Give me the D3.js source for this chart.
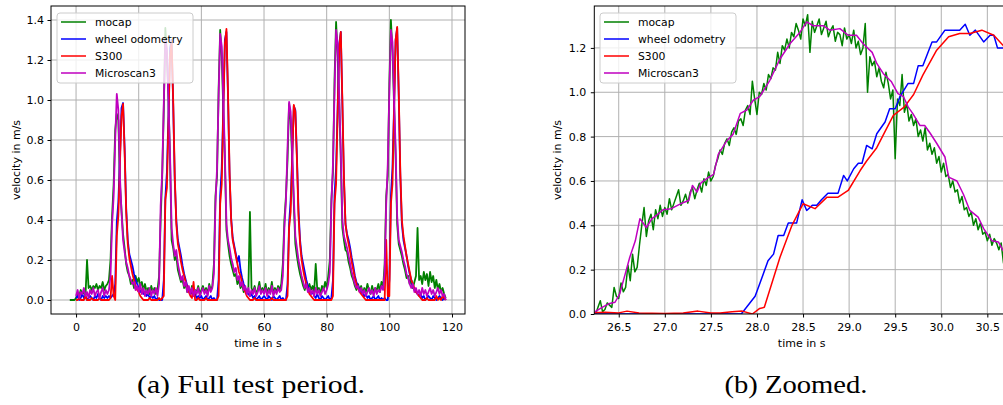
<!DOCTYPE html>
<html>
<head>
<meta charset="utf-8">
<script src="https://cdn.jsdelivr.net/npm/d3@7"></script>
<style>
  body { margin: 0; background: #fff; }
  svg text { font-family: "DejaVu Sans", sans-serif; }
  svg text.caption { font-family: "Liberation Serif", serif; }
</style>
</head>
<body>
<svg id="fig" width="1003" height="405"></svg>
<script>
// ---- full test run: velocity samples every 0.5 s ----
const fullStep = 0.5;
const mocapFullStart = -2;
const sensorFullStart = 0;

const mocapFull = [
  0.00,0.00,0.00,0.00,
  0.01,0.03,0.02,0.05,0.03,0.04,0.02,0.20,0.06,0.07,0.05,0.07,0.06,0.08,0.05,0.07,0.06,0.09,0.05,0.07,
  0.08,0.10,0.20,0.42,0.58,0.85,0.93,0.90,0.58,0.45,0.33,0.26,0.18,0.14,0.12,0.08,0.10,0.06,0.12,0.09,
  0.11,0.07,0.09,0.05,0.08,0.04,0.06,0.03,0.07,0.04,0.06,0.03,0.05,0.12,0.40,0.62,0.95,1.36,1.22,1.00,
  0.70,0.30,0.26,0.20,0.22,0.15,0.12,0.09,0.10,0.06,0.08,0.04,0.06,0.03,0.07,0.02,0.05,0.04,0.07,0.03,
  0.05,0.07,0.04,0.06,0.03,0.08,0.05,0.07,0.18,0.52,0.62,1.05,1.35,1.22,0.95,0.70,0.35,0.28,0.22,0.18,
  0.15,0.12,0.13,0.08,0.10,0.06,0.08,0.04,0.06,0.03,0.05,0.44,0.06,0.04,0.07,0.03,0.05,0.09,0.04,0.06,
  0.04,0.08,0.03,0.06,0.04,0.09,0.03,0.06,0.04,0.07,0.05,0.08,0.18,0.40,0.52,0.70,0.98,0.90,0.70,0.48,
  0.28,0.22,0.17,0.13,0.10,0.07,0.05,0.09,0.06,0.08,0.05,0.07,0.04,0.18,0.05,0.06,0.03,0.07,0.05,0.09,
  0.06,0.12,0.20,0.50,0.64,1.10,1.39,1.22,0.98,0.70,0.36,0.30,0.25,0.24,0.19,0.16,0.12,0.10,0.07,0.05,
  0.08,0.05,0.07,0.03,0.06,0.04,0.08,0.05,0.03,0.07,0.04,0.06,0.05,0.08,0.04,0.09,0.06,0.18,0.52,0.62,
  1.08,1.40,1.24,0.98,0.72,0.38,0.28,0.25,0.22,0.18,0.15,0.11,0.12,0.08,0.10,0.06,0.09,0.12,0.36,0.10,
  0.12,0.08,0.14,0.10,0.13,0.07,0.14,0.09,0.12,0.06,0.10,0.05,0.08,0.04,0.06,0.03,0.01
];

const wheelFull = [
  0.01,0.02,0.00,0.01,0.03,0.01,0.02,0.00,0.01,0.02,0.01,0.00,0.02,0.01,0.03,0.01,0.00,0.02,0.01,0.02,
  0.01,0.02,0.01,0.02,0.03,0.08,0.39,0.49,0.71,0.96,0.985,0.76,0.46,0.30,0.23,0.20,0.17,0.13,0.10,0.08,
  0.06,0.04,0.05,0.03,0.04,0.02,0.03,0.01,0.02,0.01,0.02,0.00,0.01,0.00,0.00,0.00,0.10,0.51,0.64,0.93,
  1.26,1.30,0.98,0.60,0.40,0.30,0.26,0.22,0.17,0.13,0.10,0.07,0.05,0.03,0.04,0.02,0.03,0.01,0.02,0.01,
  0.02,0.00,0.01,0.02,0.00,0.01,0.02,0.00,0.01,0.00,0.00,0.10,0.52,0.66,0.96,1.30,1.34,1.02,0.62,0.41,
  0.31,0.27,0.23,0.19,0.22,0.15,0.11,0.08,0.06,0.04,0.03,0.02,0.03,0.01,0.02,0.00,0.01,0.02,0.00,0.01,
  0.02,0.01,0.00,0.02,0.01,0.00,0.02,0.01,0.00,0.01,0.02,0.00,0.01,0.00,0.00,0.08,0.38,0.50,0.72,0.97,
  0.95,0.72,0.45,0.30,0.22,0.18,0.14,0.10,0.07,0.05,0.03,0.04,0.02,0.01,0.03,0.01,0.00,0.02,0.01,0.00,
  0.01,0.02,0.00,0.01,0.10,0.52,0.66,0.96,1.28,1.34,0.98,0.60,0.38,0.33,0.30,0.26,0.21,0.17,0.12,0.09,
  0.07,0.05,0.04,0.03,0.02,0.03,0.01,0.02,0.00,0.01,0.02,0.00,0.01,0.02,0.00,0.01,0.00,0.01,0.00,0.00,
  0.10,0.52,0.66,0.96,1.30,1.36,1.02,0.62,0.38,0.30,0.26,0.22,0.17,0.13,0.10,0.07,0.05,0.04,0.03,0.02,
  0.03,0.01,0.02,0.00,0.01,0.02,0.01,0.00,0.02,0.01,0.00,0.01,0.02,0.01,0.00,0.01,0.00
];

const s300Full = [
  0.00,0.00,0.01,0.00,0.00,0.00,0.02,0.00,0.00,0.00,0.01,0.00,0.00,0.00,0.00,0.01,0.00,0.00,0.00,0.00,
  0.00,0.00,0.01,0.12,0.02,0.00,0.32,0.42,0.68,0.92,0.98,0.74,0.44,0.28,0.21,0.17,0.13,0.10,0.07,0.05,
  0.04,0.02,0.01,0.00,0.00,0.00,0.00,0.01,0.00,0.00,0.00,0.00,0.00,0.01,0.00,0.01,0.02,0.50,0.56,0.90,
  1.22,1.29,1.00,0.62,0.38,0.28,0.24,0.19,0.15,0.12,0.09,0.06,0.04,0.02,0.01,0.09,0.00,0.00,0.01,0.00,
  0.00,0.00,0.00,0.01,0.00,0.00,0.00,0.00,0.00,0.00,0.00,0.02,0.48,0.58,0.94,1.28,1.355,1.04,0.64,0.40,
  0.30,0.26,0.22,0.18,0.14,0.12,0.09,0.06,0.04,0.02,0.01,0.00,0.00,0.00,0.01,0.00,0.00,0.00,0.00,0.00,
  0.00,0.00,0.00,0.00,0.00,0.01,0.00,0.00,0.00,0.00,0.00,0.00,0.00,0.00,0.00,0.02,0.36,0.44,0.70,0.975,
  0.94,0.70,0.42,0.28,0.20,0.15,0.11,0.08,0.05,0.03,0.02,0.01,0.00,0.00,0.00,0.00,0.00,0.00,0.00,0.00,
  0.00,0.00,0.00,0.00,0.02,0.48,0.58,0.94,1.26,1.34,1.00,0.62,0.38,0.32,0.28,0.24,0.19,0.15,0.11,0.08,
  0.06,0.04,0.03,0.02,0.01,0.00,0.00,0.00,0.00,0.00,0.00,0.00,0.00,0.00,0.00,0.00,0.00,0.00,0.30,0.02,
  0.02,0.48,0.58,0.94,1.30,1.365,1.04,0.64,0.40,0.32,0.27,0.22,0.18,0.14,0.10,0.08,0.06,0.04,0.03,0.02,
  0.01,0.00,0.00,0.00,0.01,0.00,0.00,0.00,0.00,0.00,0.02,0.00,0.01,0.00,0.02,0.01,0.00
];

const microscan3Full = [
  0.02,0.05,0.01,0.04,0.03,0.06,0.02,0.04,0.01,0.05,0.03,0.06,0.02,0.04,0.05,0.01,0.04,0.06,0.02,0.05,
  0.03,0.05,0.12,0.38,0.52,0.80,1.03,0.95,0.62,0.44,0.30,0.24,0.19,0.16,0.12,0.10,0.08,0.09,0.05,0.07,
  0.04,0.08,0.03,0.06,0.02,0.05,0.03,0.06,0.02,0.05,0.03,0.06,0.02,0.08,0.47,0.64,0.98,1.30,1.25,0.99,
  0.73,0.36,0.28,0.22,0.25,0.18,0.14,0.10,0.12,0.07,0.09,0.04,0.07,0.03,0.06,0.02,0.05,0.03,0.06,0.02,
  0.04,0.06,0.03,0.05,0.02,0.07,0.04,0.06,0.13,0.48,0.66,1.02,1.33,1.27,1.00,0.74,0.38,0.30,0.26,0.21,
  0.18,0.14,0.16,0.10,0.12,0.07,0.09,0.05,0.07,0.03,0.06,0.02,0.05,0.03,0.06,0.02,0.04,0.07,0.03,0.05,
  0.03,0.06,0.02,0.05,0.03,0.07,0.02,0.05,0.03,0.06,0.04,0.05,0.12,0.36,0.50,0.76,0.99,0.94,0.74,0.52,
  0.32,0.26,0.20,0.16,0.12,0.09,0.06,0.08,0.04,0.06,0.03,0.05,0.02,0.06,0.03,0.05,0.02,0.04,0.06,0.03,
  0.05,0.08,0.14,0.48,0.68,1.04,1.35,1.28,1.02,0.75,0.40,0.32,0.29,0.26,0.22,0.18,0.14,0.11,0.08,0.06,
  0.07,0.04,0.06,0.03,0.05,0.02,0.04,0.06,0.03,0.05,0.02,0.06,0.03,0.05,0.04,0.07,0.05,0.14,0.48,0.68,
  1.04,1.35,1.29,1.02,0.76,0.42,0.30,0.27,0.24,0.20,0.17,0.13,0.11,0.08,0.06,0.08,0.04,0.06,0.03,0.05,
  0.02,0.06,0.03,0.05,0.02,0.04,0.06,0.03,0.05,0.02,0.04,0.06,0.03,0.05,0.02,0.03,0.00
];

// ---- zoomed window around the second run ----
const mocapZoomStart = 26.25;
const mocapZoomStep = 0.025;
const mocapZoom = [
  0.00,0.03,0.06,0.01,0.02,0.05,0.04,0.03,0.12,0.08,
  0.07,0.14,0.10,0.12,0.22,0.15,0.27,0.19,0.21,0.31,
  0.40,0.48,0.35,0.42,0.45,0.38,0.47,0.43,0.49,0.44,
  0.48,0.45,0.52,0.47,0.50,0.53,0.56,0.49,0.51,0.54,
  0.50,0.55,0.57,0.52,0.56,0.59,0.55,0.61,0.58,0.64,
  0.60,0.62,0.67,0.70,0.74,0.72,0.77,0.79,0.76,0.82,
  0.84,0.81,0.87,0.88,0.85,0.92,0.94,0.90,1.05,0.97,
  0.90,1.00,0.99,1.04,1.01,1.08,1.06,1.11,1.10,1.18,
  1.13,1.21,1.19,1.24,1.20,1.27,1.25,1.31,1.28,1.24,
  1.33,1.30,1.35,1.18,1.32,1.27,1.30,1.33,1.26,1.29,
  1.32,1.25,1.28,1.30,1.23,1.27,1.26,1.21,1.29,1.24,
  1.26,1.22,1.28,1.20,1.23,1.17,1.20,1.31,1.00,1.16,
  1.12,1.14,1.07,1.11,1.05,1.02,1.09,1.04,0.97,1.01,
  0.70,0.97,0.94,1.08,0.91,0.95,0.87,0.90,0.85,0.88,
  0.80,0.83,0.78,0.84,0.74,0.77,0.72,0.75,0.68,0.71,
  0.64,0.68,0.62,0.63,0.57,0.60,0.55,0.56,0.50,0.53,
  0.47,0.48,0.44,0.46,0.40,0.43,0.38,0.41,0.36,0.37,
  0.33,0.36,0.31,0.34,0.32,0.29,0.32,0.23,0.28,0.26,
  0.27
];

const wheelZoom = [
  [26.20,0.0],[27.83,0.0],[27.98,0.08],[28.03,0.136],[28.12,0.24],[28.18,0.27],[28.23,0.354],
  [28.29,0.354],[28.34,0.41],[28.43,0.41],[28.49,0.515],[28.54,0.467],[28.60,0.49],[28.65,0.49],
  [28.70,0.515],[28.77,0.545],[28.88,0.545],[28.94,0.625],[28.98,0.60],[29.05,0.655],[29.10,0.68],
  [29.14,0.68],[29.19,0.76],[29.25,0.745],[29.30,0.813],[29.39,0.866],[29.44,0.926],[29.50,0.926],
  [29.55,0.979],[29.64,1.04],[29.70,1.04],[29.75,1.12],[29.80,1.12],[29.90,1.227],[29.95,1.227],
  [30.04,1.28],[30.20,1.28],[30.26,1.307],[30.31,1.257],[30.37,1.28],[30.46,1.227],[30.53,1.257],
  [30.57,1.257],[30.61,1.20],[30.75,1.20]
];

const s300Zoom = [
  [26.20,0.005],[26.35,0.008],[26.50,0.005],[26.59,0.013],[26.72,0.004],[27.00,0.002],[27.20,0.004],
  [27.36,0.013],[27.50,0.004],[27.60,0.004],[27.73,0.010],[27.84,0.013],[27.95,0.0],[28.03,0.025],
  [28.08,0.03],[28.16,0.136],[28.25,0.256],[28.38,0.40],[28.50,0.497],[28.63,0.475],[28.76,0.527],
  [28.88,0.527],[28.99,0.557],[29.12,0.647],[29.19,0.69],[29.30,0.75],[29.48,0.896],[29.60,0.934],
  [29.70,0.99],[29.80,1.077],[29.95,1.19],[30.08,1.25],[30.20,1.265],[30.31,1.265],[30.44,1.28],
  [30.57,1.257],[30.67,1.212],[30.75,1.17]
];

const microscan3Zoom = [
  [26.24,0.01],[26.32,0.03],[26.39,0.046],[26.46,0.053],[26.51,0.09],[26.57,0.18],[26.62,0.256],
  [26.68,0.33],[26.73,0.43],[26.80,0.39],[26.86,0.43],[26.91,0.445],[26.98,0.47],[27.07,0.475],
  [27.17,0.497],[27.26,0.512],[27.30,0.58],[27.35,0.55],[27.39,0.59],[27.47,0.615],[27.53,0.63],
  [27.58,0.72],[27.67,0.78],[27.74,0.81],[27.82,0.905],[27.89,0.92],[27.96,0.964],[28.03,0.98],
  [28.14,1.054],[28.25,1.15],[28.36,1.22],[28.47,1.272],[28.54,1.317],[28.61,1.30],[28.72,1.30],
  [28.79,1.28],[28.90,1.287],[28.99,1.257],[29.08,1.257],[29.15,1.22],[29.25,1.18],[29.30,1.13],
  [29.37,1.085],[29.46,1.047],[29.53,0.994],[29.59,0.98],[29.64,0.934],[29.69,0.905],[29.77,0.85],
  [29.82,0.85],[29.88,0.815],[29.95,0.77],[30.04,0.708],[30.08,0.617],[30.17,0.60],[30.24,0.54],
  [30.31,0.467],[30.40,0.437],[30.46,0.385],[30.55,0.33],[30.62,0.325],[30.67,0.287],[30.75,0.26]
];

// ---- labels, colours, ticks ----
const seriesNames = ["mocap", "wheel odometry", "S300", "Microscan3"];
const seriesColors = ["#008000", "#0000ff", "#ff0000", "#bf00bf"];
const fullXTicks = [0, 20, 40, 60, 80, 100, 120];
const fullYTicks = [0.0, 0.2, 0.4, 0.6, 0.8, 1.0, 1.2, 1.4];
const zoomXTicks = [26.5, 27.0, 27.5, 28.0, 28.5, 29.0, 29.5, 30.0, 30.5];
const zoomYTicks = [0.0, 0.2, 0.4, 0.6, 0.8, 1.0, 1.2];
const xTitle = "time in s";
const yTitle = "velocity in m/s";
const captions = ["(a) Full test period.", "(b) Zoomed."];

// evenly sampled values -> [t, v] points
const sampled = (vals, t0, dt) => vals.map((v, i) => [t0 + i * dt, v]);
const svg = d3.select("#fig");

function drawPanel(o) {
  const x = d3.scaleLinear().domain(o.xDomain).range([o.left, o.right]);
  const y = d3.scaleLinear().domain(o.yDomain).range([o.bottom, o.top]);
  const g = svg.append("g");

  g.append("clipPath").attr("id", "clip-" + o.id)
    .append("rect").attr("x", o.left).attr("y", o.top)
    .attr("width", o.right - o.left).attr("height", o.bottom - o.top);

  // grid
  const grid = g.append("g").attr("stroke", "#b0b0b0").attr("stroke-width", 1)
    .attr("clip-path", `url(#clip-${o.id})`);
  grid.selectAll(".gx").data(o.xTicks).join("line")
    .attr("x1", d => x(d)).attr("x2", d => x(d)).attr("y1", o.top).attr("y2", o.bottom);
  grid.selectAll(".gy").data(o.yTicks).join("line")
    .attr("x1", o.left).attr("x2", o.right).attr("y1", d => y(d)).attr("y2", d => y(d));

  // series
  const line = d3.line().x(d => x(d[0])).y(d => y(d[1]));
  const lines = g.append("g").attr("clip-path", `url(#clip-${o.id})`);
  o.series.forEach((pts, i) => {
    lines.append("path").datum(pts).attr("d", line)
      .attr("fill", "none").attr("stroke", seriesColors[i])
      .attr("stroke-width", o.lineW).attr("stroke-linejoin", "round");
  });

  // spines
  g.append("rect").attr("x", o.left).attr("y", o.top)
    .attr("width", o.right - o.left).attr("height", o.bottom - o.top)
    .attr("fill", "none").attr("stroke", "#000").attr("stroke-width", 1);

  // axes
  const ax = g.append("g").attr("transform", `translate(0,${o.bottom})`)
    .call(d3.axisBottom(x).tickValues(o.xTicks).tickFormat(o.xFmt).tickSize(3.5).tickPadding(5.5));
  const ay = g.append("g").attr("transform", `translate(${o.left},0)`)
    .call(d3.axisLeft(y).tickValues(o.yTicks).tickFormat(d3.format(".1f")).tickSize(3.5).tickPadding(o.yPad));
  [ax, ay].forEach(a => {
    a.select(".domain").remove();
    a.selectAll("text").attr("font-size", 11).attr("fill", "#000");
    a.selectAll("line").attr("stroke", "#000").attr("stroke-width", 1);
  });

  g.append("text").attr("x", (o.left + o.right) / 2).attr("y", 347)
    .attr("text-anchor", "middle").attr("font-size", 11).text(xTitle);
  g.append("text").attr("transform", `translate(${o.yTitleX},${(o.top + o.bottom) / 2}) rotate(-90)`)
    .attr("text-anchor", "middle").attr("font-size", 11).text(yTitle);

  // legend
  const lg = g.append("g").attr("transform", `translate(${o.legendX},13)`);
  lg.append("rect").attr("width", 136).attr("height", 70).attr("rx", 3)
    .attr("fill", "#fff").attr("fill-opacity", 0.8).attr("stroke", "#cccccc").attr("stroke-width", 1);
  seriesNames.forEach((name, i) => {
    const yy = 9 + i * 17;
    lg.append("line").attr("x1", 4).attr("x2", 29).attr("y1", yy).attr("y2", yy)
      .attr("stroke", seriesColors[i]).attr("stroke-width", 1.5);
    lg.append("text").attr("x", 38).attr("y", yy + 4).attr("font-size", 10.8).text(name);
  });

  // caption
  svg.append("text").attr("class", "caption")
    .attr("x", o.captionX).attr("y", 393).attr("text-anchor", "middle")
    .attr("font-size", 26)
    .attr("textLength", o.captionW).attr("lengthAdjust", "spacingAndGlyphs")
    .text(o.caption);
}

drawPanel({
  id: "full", left: 51, right: 465, top: 6, bottom: 314,
  xDomain: [-8, 124.15], yDomain: [-0.07, 1.47],
  xTicks: fullXTicks, yTicks: fullYTicks, xFmt: d3.format("d"), yPad: 3.5, lineW: 1.8,
  yTitleX: 19.5, legendX: 57, captionX: 251, captionW: 228, caption: captions[0],
  series: [
    sampled(mocapFull, mocapFullStart, fullStep),
    sampled(wheelFull, sensorFullStart, fullStep),
    sampled(s300Full, sensorFullStart, fullStep),
    sampled(microscan3Full, sensorFullStart, fullStep)
  ]
});

drawPanel({
  id: "zoom", left: 594.3, right: 1009, top: 6, bottom: 314,
  xDomain: [26.235, 30.735], yDomain: [0, 1.389],
  xTicks: zoomXTicks, yTicks: zoomYTicks, xFmt: d3.format(".1f"), yPad: 4.5, lineW: 1.5,
  yTitleX: 560.5, legendX: 600, captionX: 796, captionW: 143, caption: captions[1],
  series: [
    sampled(mocapZoom, mocapZoomStart, mocapZoomStep),
    wheelZoom,
    s300Zoom,
    microscan3Zoom
  ]
});
</script>
</body>
</html>
